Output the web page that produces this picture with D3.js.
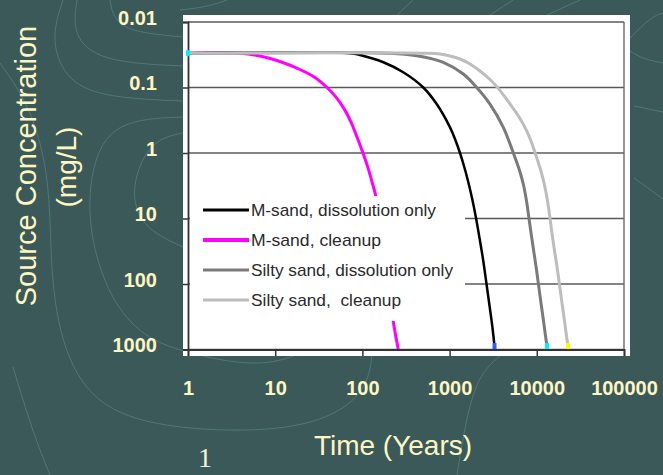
<!DOCTYPE html>
<html>
<head>
<meta charset="utf-8">
<script src="https://cdn.jsdelivr.net/npm/d3@7/dist/d3.min.js"></script>
<style>
  html, body { margin: 0; padding: 0; background: #3c5959; }
  svg { display: block; }
</style>
</head>
<body>
<svg id="chart" width="663" height="475"></svg>
<script>
// ---------- data ----------
const xTickValues = [1, 10, 100, 1000, 10000, 100000];
const xTickLabels = ["1", "10", "100", "1000", "10000", "100000"];
const yTickValues = [0.01, 0.1, 1, 10, 100, 1000];
const yTickLabels = ["0.01", "0.1", "1", "10", "100", "1000"];

const seriesNames = ["M-sand, dissolution only", "M-sand, cleanup", "Silty sand, dissolution only", "Silty sand,  cleanup"];

const msandDissolutionYears = [1, 72, 93.8, 174, 294, 499, 711, 1011, 1153, 1316, 1462, 1626, 1807, 2009, 2203, 2415, 2650, 2905, 3105, 3273];
const msandDissolutionConc  = [0.03, 0.03, 0.0319, 0.0412, 0.0586, 0.1, 0.179, 0.406, 0.611, 1, 1.58, 2.67, 4.86, 9.8, 19.9, 41.5, 100, 241, 470, 885];

const msandCleanupYears = [1, 3.95, 6.69, 11.35, 19.2, 28.6, 39.3, 49.8, 61.5, 74.0, 86.7, 102, 116, 129, 143, 226, 258];
const msandCleanupConc  = [0.03, 0.03, 0.033, 0.0401, 0.0531, 0.0703, 0.1, 0.140, 0.210, 0.337, 0.570, 1.02, 1.69, 2.77, 4.70, 377, 1000];

const siltyDissolutionYears = [1, 207, 420, 847, 1436, 2046, 2905, 4130, 5380, 5885, 6417, 7040, 7620, 8140, 8690, 9290, 9930, 10470, 11170, 11940, 12590, 13090];
const siltyDissolutionConc  = [0.03, 0.03, 0.0327, 0.0412, 0.0622, 0.1, 0.179, 0.406, 1, 1.39, 1.95, 3.08, 5.41, 10, 18.5, 33.6, 61.1, 103, 195, 367, 622, 885];

const siltyCleanupYears = [1, 522, 776, 1011, 1316, 1714, 2232, 2905, 3542, 4317, 5380, 6417, 7656, 8576, 9530, 10400, 11320, 12250, 13270, 14170, 15140, 16180, 17270, 18210, 19450, 20790, 21910, 22790];
const siltyCleanupConc  = [0.03, 0.03, 0.0308, 0.033, 0.0367, 0.0438, 0.056, 0.0755, 0.1, 0.140, 0.210, 0.297, 0.461, 0.656, 0.98, 1.39, 2.02, 3.08, 5.41, 9.93, 19.2, 34.8, 61.1, 103, 195, 367, 622, 885];

// end-point markers (year, conc) – start marker plus the three curve ends
const markerYears = [1, 3273, 13090, 22790];
const markerConc  = [0.03, 885, 885, 885];
const markerColors = ["#00f0ff", "#2f5cff", "#00f0ff", "#ffff00"];

// ---------- style ----------
const seriesColors = ["#000000", "#ff00ff", "#7a7a7a", "#bdbdbd"];
const seriesWidths = [2.5, 3, 3, 3];
const cream = "#fdf6c3";
const font = "'Liberation Sans', Arial, Helvetica, sans-serif";

// decorative background contour lines of the slide template
const backgroundContours = [
  [[110,0],[113,18],[130,32],[183,37]],
  [[77,0],[72,35],[100,62],[183,66]],
  [[63,0],[50,40],[67,83],[110,98],[183,101]],
  [[183,117],[113,120],[90,167],[88,233],[110,300],[143,337],[183,352],[247,366],[290,360],[330,338]],
  [[183,133],[150,140],[130,187],[140,227],[183,247]],
  [[0,63],[33,110],[50,183],[50,250],[57,333],[87,400],[150,427],[260,433],[330,420],[367,390],[372,356]],
  [[13,367],[33,433],[50,475]],
  [[500,356],[480,373],[467,413],[457,475]],
  [[180,10],[207,7],[227,0]],
  [[397,15],[413,0]],
  [[490,15],[513,0]],
  [[547,15],[580,0]],
  [[630,38],[651,17],[663,13]],
  [[630,51],[643,59],[663,63]],
  [[634,106],[663,112]],
  [[634,178],[663,199]]
];

// ---------- drawing ----------
const svg = d3.select("#chart");
svg.append("rect").attr("width", 663).attr("height", 475).attr("fill", "#3c5959");

const contourLine = d3.line().curve(d3.curveBasis);
svg.append("g").selectAll("path").data(backgroundContours).join("path")
  .attr("d", contourLine).attr("fill", "none")
  .attr("stroke", "#4f7877").attr("stroke-width", 1);

const x = d3.scaleLog().domain([1, 100000]).range([188, 624]);
const y = d3.scaleLog().domain([0.01, 1000]).range([22, 349.5]);

// white plot panel
svg.append("rect").attr("x", 183).attr("y", 15).attr("width", 447).attr("height", 341).attr("fill", "#ffffff");

// horizontal gridlines
svg.append("g").selectAll("line").data(yTickValues).join("line")
  .attr("x1", x(1)).attr("x2", x(100000))
  .attr("y1", d => y(d)).attr("y2", d => y(d))
  .attr("stroke", "#5a5a5a").attr("stroke-width", 1.6);

// right frame
svg.append("line").attr("x1", x(100000)).attr("x2", x(100000))
  .attr("y1", y(0.01)).attr("y2", y(1000))
  .attr("stroke", "#6a6a6a").attr("stroke-width", 1.4);

// series
const seriesData = [
  msandDissolutionYears.map((t, i) => [t, msandDissolutionConc[i]]),
  msandCleanupYears.map((t, i) => [t, msandCleanupConc[i]]),
  siltyDissolutionYears.map((t, i) => [t, siltyDissolutionConc[i]]),
  siltyCleanupYears.map((t, i) => [t, siltyCleanupConc[i]])
];
const line = d3.line().x(d => x(d[0])).y(d => y(d[1])).curve(d3.curveCatmullRom.alpha(0.5));
const drawOrder = [1, 0, 2, 3];
svg.append("g").selectAll("path").data(drawOrder).join("path")
  .attr("d", i => line(seriesData[i]))
  .attr("fill", "none")
  .attr("stroke", i => seriesColors[i])
  .attr("stroke-width", i => seriesWidths[i])
  .attr("stroke-linejoin", "round");

// axes
const yAxis = d3.axisLeft(y).tickValues(yTickValues).tickSize(5).tickPadding(26)
  .tickFormat((d, i) => yTickLabels[i]);
const gy = svg.append("g").attr("transform", `translate(${x(1)},0)`).call(yAxis);
gy.select(".domain").attr("stroke", "#333").attr("stroke-width", 1.8);
gy.selectAll(".tick line").attr("stroke", "#333").attr("stroke-width", 1.5);
gy.selectAll(".tick text")
  .attr("fill", cream).attr("font-family", font).attr("font-weight", "bold")
  .attr("font-size", 20).attr("dy", "0.32em").attr("y", -4);

const xAxis = d3.axisBottom(x).tickValues(xTickValues).tickSize(6.5).tickPadding(0)
  .tickFormat((d, i) => xTickLabels[i]);
const gx = svg.append("g").attr("transform", `translate(0,${y(1000)})`).call(xAxis);
gx.select(".domain").attr("stroke", "#333").attr("stroke-width", 1.8);
gx.selectAll(".tick line").attr("stroke", "#333").attr("stroke-width", 1.5);
gx.selectAll(".tick text")
  .attr("fill", cream).attr("font-family", font).attr("font-weight", "bold")
  .attr("font-size", 20).attr("y", 45).attr("dy", "0");

// legend
const legend = svg.append("g");
legend.append("rect").attr("x", 190).attr("y", 196).attr("width", 275).attr("height", 125).attr("fill", "#ffffff");
const rows = legend.selectAll("g.row").data(seriesNames).join("g").attr("class", "row")
  .attr("transform", (d, i) => `translate(0,${210 + i * 30})`);
rows.append("line").attr("x1", 203).attr("x2", 249).attr("y1", 0).attr("y2", 0)
  .attr("stroke", (d, i) => seriesColors[i])
  .attr("stroke-width", (d, i) => i === 1 ? 4 : 3.2);
rows.append("text").attr("x", 251).attr("y", 0).attr("dy", "0.35em")
  .attr("font-family", font).attr("font-size", 17).attr("fill", "#2a2a2a")
  .style("white-space", "pre")
  .attr("textLength", (d, i) => [185, 130, 202, 150][i]).attr("lengthAdjust", "spacingAndGlyphs")
  .text(d => d);

// markers
svg.append("g").selectAll("rect").data(markerYears).join("rect")
  .attr("x", d => x(d) - 2).attr("y", (d, i) => y(markerConc[i]) - 3)
  .attr("width", 4).attr("height", 6)
  .attr("fill", (d, i) => markerColors[i]);

// axis titles
svg.append("text")
  .attr("transform", "translate(36,166) rotate(-90)")
  .attr("text-anchor", "middle").attr("font-family", font).attr("font-size", 29)
  .attr("fill", cream).text("Source Concentration");
svg.append("text")
  .attr("transform", "translate(76,167) rotate(-90)")
  .attr("text-anchor", "middle").attr("font-family", font).attr("font-size", 28)
  .attr("fill", cream).text("(mg/L)");
svg.append("text")
  .attr("x", 393).attr("y", 455)
  .attr("text-anchor", "middle").attr("font-family", font).attr("font-size", 28)
  .attr("fill", cream).text("Time (Years)");

// slide number
svg.append("text")
  .attr("x", 205).attr("y", 467)
  .attr("text-anchor", "middle").attr("font-family", "'Liberation Serif', 'Times New Roman', serif")
  .attr("font-size", 28).attr("fill", "#f3efd8").text("1");
</script>
</body>
</html>
